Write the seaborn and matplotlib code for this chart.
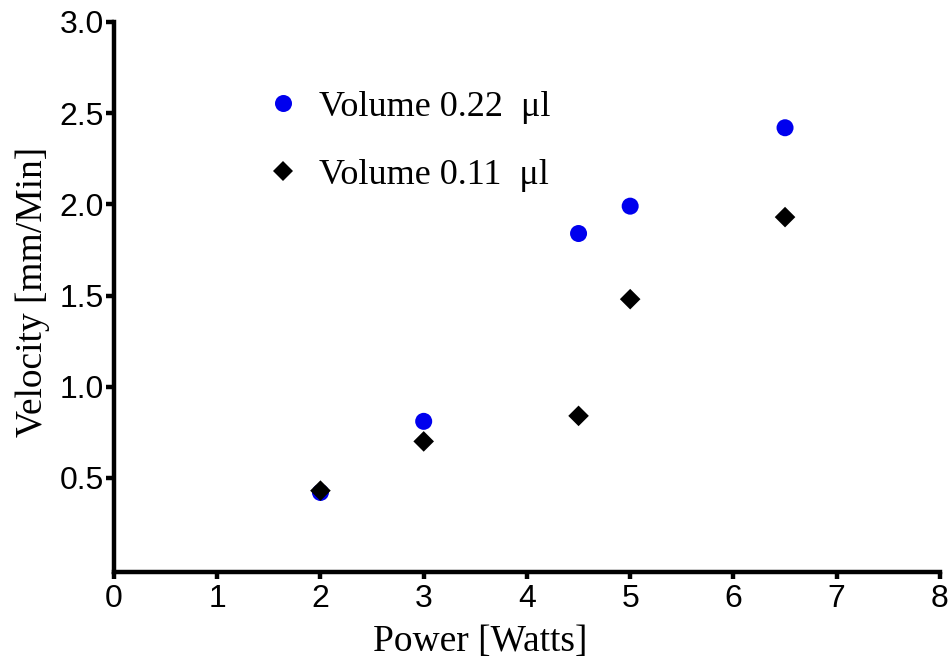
import matplotlib
matplotlib.use("Agg")
import matplotlib.pyplot as plt
import seaborn as sns
import pandas as pd

# Measured data
power_watts = [2, 3, 4.5, 5, 6.5]
velocity_022 = [0.42, 0.81, 1.84, 1.99, 2.42]
velocity_011 = [0.43, 0.70, 0.84, 1.48, 1.93]
series_labels = ["Volume 0.22  \u03bcl", "Volume 0.11  \u03bcl"]
x_ticks = [0, 1, 2, 3, 4, 5, 6, 7, 8]
y_ticks = [0.5, 1.0, 1.5, 2.0, 2.5, 3.0]

sns.set_style("ticks")
plt.rcParams["font.family"] = ["Liberation Sans", "DejaVu Sans"]
plt.rcParams["text.color"] = "black"
plt.rcParams["axes.labelcolor"] = "black"

df = pd.DataFrame({
    "Power": power_watts * 2,
    "Velocity": velocity_022 + velocity_011,
    "Series": [series_labels[0]] * len(power_watts) + [series_labels[1]] * len(power_watts),
})

fig = plt.figure(figsize=(9.52, 6.64), dpi=100)
ax = fig.add_axes([0.1197, 0.1386, 0.8676, 0.8283])

sns.scatterplot(
    data=df, x="Power", y="Velocity", hue="Series", style="Series", size="Series",
    palette={series_labels[0]: "#0000ee", series_labels[1]: "#000000"},
    markers={series_labels[0]: "o", series_labels[1]: "D"},
    sizes={series_labels[0]: 150, series_labels[1]: 110},
    linewidth=0, ax=ax, legend=True,
)

ax.set_xlim(0, 8)
ax.set_ylim(-0.016, 3.0)
ax.set_xticks(x_ticks)
ax.set_yticks(y_ticks)
ax.set_xticklabels([str(t) for t in x_ticks])
ax.set_yticklabels([f"{t:.1f}" for t in y_ticks])

sns.despine(ax=ax)
for side in ("left", "bottom"):
    ax.spines[side].set_linewidth(3.2)
    ax.spines[side].set_color("black")

ax.tick_params(axis="both", colors="black", labelsize=23, width=3.2, direction="out")
ax.tick_params(axis="x", length=5, pad=4)
ax.tick_params(axis="y", length=6, pad=1)

serif = ["Liberation Serif", "DejaVu Serif"]
ax.set_xlabel("Power [Watts]", fontsize=27, family=serif)
ax.set_ylabel("Velocity [mm/Min]", fontsize=27, family=serif)
ax.xaxis.set_label_coords(0.443, -0.095)
ax.yaxis.set_label_coords(-0.078, 0.51)

handles, labels = ax.get_legend_handles_labels()
leg = ax.legend(
    handles, labels, loc="upper left", bbox_to_anchor=(0.121, 0.935),
    frameon=False, prop={"family": serif, "size": 26},
    labelspacing=0.97, handletextpad=0.0,
)

fig.savefig("out.png", dpi=100)
